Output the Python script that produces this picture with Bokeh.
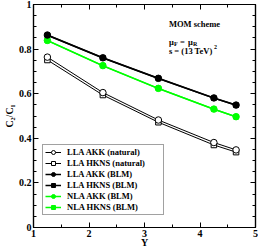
from bokeh.plotting import figure
from bokeh.models import (Range1d, LinearAxis, SingleIntervalTicker, Legend, LegendItem,
                          Label, CustomJSTickFormatter)
from bokeh.embed import file_html
from bokeh.resources import INLINE

# ---- data ----
rapidity = [1.25, 2.25, 3.25, 4.25, 4.65]
lla_akk_natural = [0.764, 0.605, 0.482, 0.381, 0.348]
lla_hkns_natural = [0.751, 0.594, 0.472, 0.370, 0.338]
lla_akk_blm = [0.863, 0.761, 0.669, 0.581, 0.549]
lla_hkns_blm = [0.862, 0.760, 0.668, 0.580, 0.548]
nla_akk_blm = [0.839, 0.726, 0.624, 0.531, 0.497]
nla_hkns_blm = [0.838, 0.725, 0.623, 0.530, 0.496]

x_ticks = [1, 2, 3, 4, 5]
y_ticks = [0, 0.2, 0.4, 0.6, 0.8, 1]

FONT = "Liberation Serif"
GREEN = "#00ff00"

p = figure(width=258, height=250, output_backend="svg", toolbar_location=None,
           x_range=Range1d(1, 5), y_range=Range1d(0, 1),
           min_border_left=29, min_border_right=3, min_border_top=4, min_border_bottom=20,
           x_axis_type=None, y_axis_type=None)
p.background_fill_color = "white"
p.border_fill_color = "white"
p.outline_line_color = "black"
p.outline_line_width = 1.2
p.xgrid.visible = False
p.ygrid.visible = False

blank = CustomJSTickFormatter(code="return ''")

def style_axis(ax, interval, minor, labels=True):
    ax.ticker = SingleIntervalTicker(interval=interval, num_minor_ticks=minor)
    ax.axis_line_color = "black"
    ax.axis_line_width = 1.2
    ax.major_tick_in = 5
    ax.major_tick_out = 0
    ax.minor_tick_in = 3
    ax.minor_tick_out = 0
    ax.major_tick_line_color = "black"
    ax.minor_tick_line_color = "black"
    ax.major_label_text_font = FONT
    ax.major_label_text_font_style = "bold"
    ax.major_label_text_color = "black"
    ax.axis_label_text_font = FONT
    ax.axis_label_text_font_style = "bold"
    ax.axis_label_text_color = "black"
    if labels:
        ax.major_label_text_font_size = "10px"
        ax.major_label_standoff = 2
    else:
        ax.formatter = blank
        ax.major_label_text_font_size = "1px"
        ax.major_label_standoff = 0

xb = LinearAxis(axis_label="Y")
style_axis(xb, 1, 2)
xb.major_label_overrides = {v: str(v) for v in x_ticks}
xb.axis_label_text_font_size = "10px"
xb.axis_label_standoff = -3
p.add_layout(xb, "below")

yl = LinearAxis(axis_label="C\u2082/C\u2081")
style_axis(yl, 0.2, 4)
yl.major_label_overrides = {0: "0", 1: "1"}
yl.axis_label_text_font_size = "10px"
yl.axis_label_standoff = 1
p.add_layout(yl, "left")

xt = LinearAxis()
style_axis(xt, 1, 2, labels=False)
p.add_layout(xt, "above")

yr = LinearAxis()
style_axis(yr, 0.2, 4, labels=False)
p.add_layout(yr, "right")

# ---- series ----
def series(y, marker, size, fill, color, lw):
    ln = p.line(rapidity, y, line_color=color, line_width=lw)
    sc = p.scatter(rapidity, y, marker=marker, size=size, fill_color=fill,
                   line_color=color, line_width=1)
    return [ln, sc]

r_hkns_nat = series(lla_hkns_natural, "square", 5.5, "white", "black", 1)
r_akk_nat = series(lla_akk_natural, "circle", 6.5, "white", "black", 1)
r_nla_hkns = series(nla_hkns_blm, "square", 4.5, GREEN, GREEN, 1.5)
r_nla_akk = series(nla_akk_blm, "circle", 6.5, GREEN, GREEN, 1.5)
r_hkns_blm = series(lla_hkns_blm, "square", 4.5, "black", "black", 1.5)
r_akk_blm = series(lla_akk_blm, "circle", 6.5, "black", "black", 1.5)

legend = Legend(items=[
    LegendItem(label="LLA AKK (natural)", renderers=r_akk_nat),
    LegendItem(label="LLA HKNS (natural)", renderers=r_hkns_nat),
    LegendItem(label="LLA AKK (BLM)", renderers=r_akk_blm),
    LegendItem(label="LLA HKNS (BLM)", renderers=r_hkns_blm),
    LegendItem(label="NLA AKK (BLM)", renderers=r_nla_akk),
    LegendItem(label="NLA HKNS (BLM)", renderers=r_nla_hkns),
], location=(9, 12))
legend.margin = 0
legend.padding = 2
legend.spacing = 1
legend.glyph_width = 16
legend.glyph_height = 10
legend.label_height = 10
legend.label_width = 94
legend.label_standoff = 6
legend.label_text_font = FONT
legend.label_text_font_style = "bold"
legend.label_text_font_size = "8.5px"
legend.label_text_color = "black"
legend.border_line_color = "#444444"
legend.border_line_width = 1
legend.background_fill_color = "white"
legend.background_fill_alpha = 1
p.add_layout(legend, "center")

# ---- annotations ----
def lab(text, x, y, size="8.5px", dx=0, dy=0, align="left", base="middle"):
    l = Label(x=x, y=y, text=text, x_offset=dx, y_offset=dy,
              text_font=FONT, text_font_style="bold", text_font_size=size,
              text_color="black", text_align=align, text_baseline=base)
    p.add_layout(l)

tx = 3.44
lab("MOM scheme", tx, 0.912)
lab("\u03bc", tx, 0.834)
lab("F", tx, 0.834, size="6px", dx=5, dy=-2.5)
lab("=", tx, 0.834, dx=11)
lab("\u03bc", tx, 0.834, dx=19)
lab("R", tx, 0.834, size="6px", dx=24, dy=-2.5)
lab("s = (13 TeV)", tx, 0.79)
lab("2", tx, 0.79, size="6px", dx=45, dy=4)

open("out.html", "w").write(file_html(p, INLINE))
